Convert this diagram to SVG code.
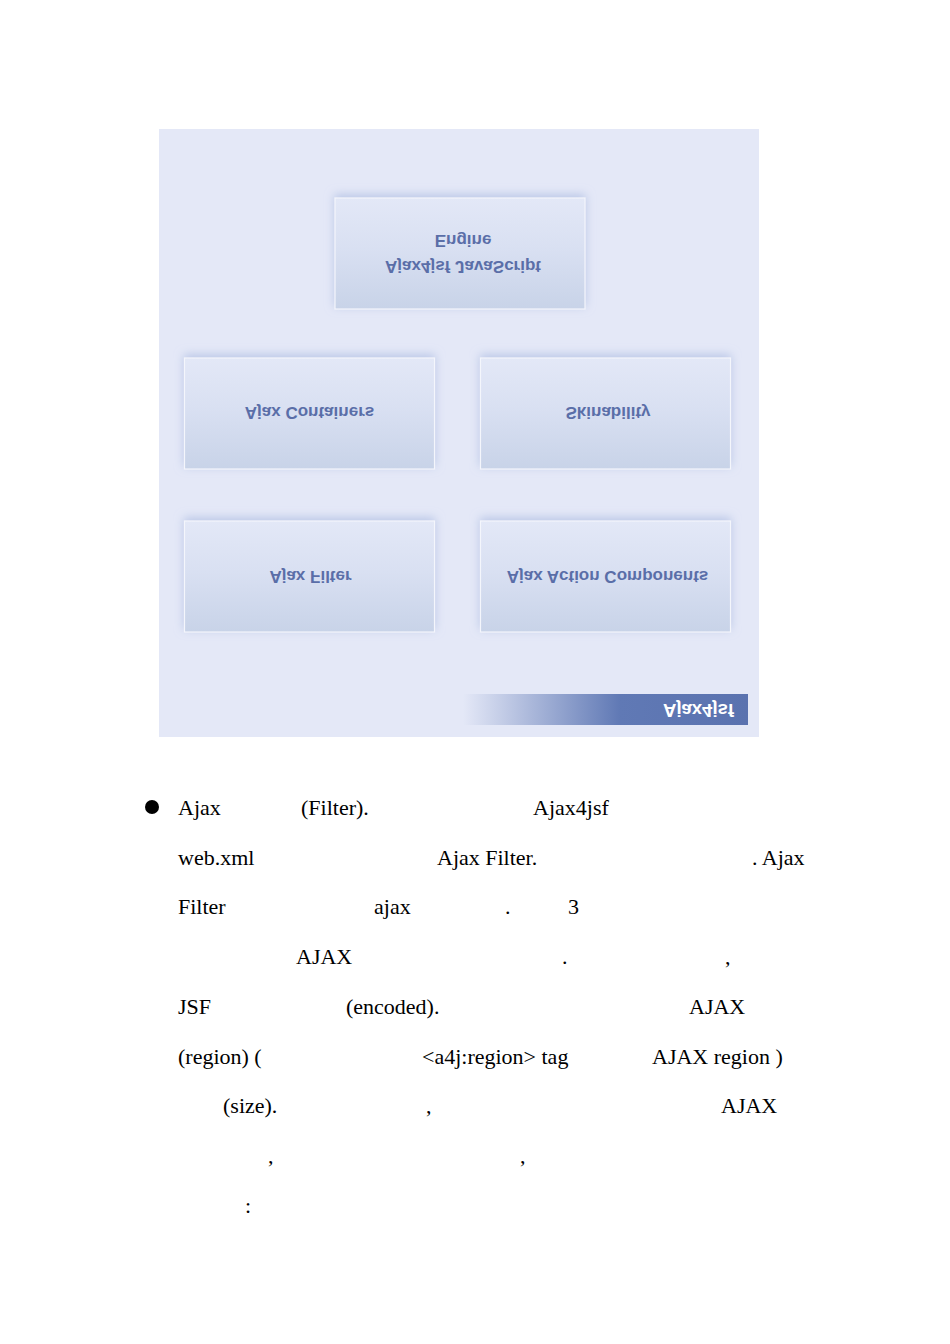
<svg xmlns="http://www.w3.org/2000/svg" width="950" height="1344" viewBox="0 0 950 1344">
<style>
.lbl{font-family:"Liberation Sans",Arial,sans-serif;font-weight:bold;font-size:17px;fill:#5a6ea8;text-anchor:middle}
.ban{font-family:"Liberation Sans",Arial,sans-serif;font-weight:bold;font-size:18.5px;fill:#ffffff;text-anchor:end}
.body{font-family:"Liberation Serif","Times New Roman",serif;font-size:22px;fill:#000000}
.box{fill:url(#boxg);stroke:#f4f6fc;stroke-width:1.2;filter:url(#sh)}
</style>
<defs>
<linearGradient id="boxg" x1="0" y1="0" x2="0" y2="1">
<stop offset="0" stop-color="#e3e8f7"/>
<stop offset="0.45" stop-color="#d9e0f2"/>
<stop offset="1" stop-color="#c8d3e8"/>
</linearGradient>
<linearGradient id="bang" x1="0" y1="0" x2="1" y2="0">
<stop offset="0" stop-color="#e4e8f7"/>
<stop offset="0.55" stop-color="#6079b5"/>
<stop offset="1" stop-color="#5a72af"/>
</linearGradient>
<filter id="sh" x="-10%" y="-20%" width="120%" height="140%">
<feDropShadow dx="0" dy="-3" stdDeviation="5" flood-color="#a8b8e0" flood-opacity="0.7"/>
</filter>
</defs>
<rect x="159" y="129" width="600" height="608" fill="#e4e8f7"/>
<g id="connectors"></g>
<g id="node-engine">
<rect class="box" x="335" y="198" width="250" height="111"/>
<text class="lbl" transform="translate(463,266) scale(1,-1)" y="5.5">Ajax4jsf JavaScript</text>
<text class="lbl" transform="translate(463,240) scale(1,-1)" y="5.5">Engine</text>
</g>
<g id="node-containers">
<rect class="box" x="184.5" y="358" width="250" height="111"/>
<text class="lbl" transform="translate(309.5,412) scale(1,-1)" y="5.5">Ajax Containers</text>
</g>
<g id="node-skinability">
<rect class="box" x="480.5" y="358" width="250" height="111"/>
<text class="lbl" transform="translate(608,412) scale(1,-1)" y="5.5">Skinability</text>
</g>
<g id="node-filter">
<rect class="box" x="184.5" y="521" width="250" height="111"/>
<text class="lbl" transform="translate(310.5,576) scale(1,-1)" y="5.5">Ajax Filter</text>
</g>
<g id="node-action">
<rect class="box" x="480.5" y="521" width="250" height="111"/>
<text class="lbl" transform="translate(607.5,576) scale(1,-1)" y="5.5">Ajax Action Components</text>
</g>
<g id="banner">
<rect x="463" y="694" width="285" height="31" fill="url(#bang)"/>
<text class="ban" transform="translate(734,710) scale(1,-1)" y="6.5">Ajax4jsf</text>
</g>
<g id="body">
<circle cx="152" cy="807" r="7" fill="#000"/>
<text class="body" y="815"><tspan x="178">Ajax</tspan><tspan x="301">(Filter).</tspan><tspan x="533">Ajax4jsf</tspan></text>
<text class="body" y="864.7"><tspan x="178">web.xml</tspan><tspan x="437">Ajax Filter.</tspan><tspan x="752">. Ajax</tspan></text>
<text class="body" y="914.4"><tspan x="178">Filter</tspan><tspan x="374">ajax</tspan><tspan x="505">.</tspan><tspan x="568">3</tspan></text>
<text class="body" y="964.1"><tspan x="296">AJAX</tspan><tspan x="562">.</tspan><tspan x="725">,</tspan></text>
<text class="body" y="1013.8"><tspan x="178">JSF</tspan><tspan x="346">(encoded).</tspan><tspan x="689">AJAX</tspan></text>
<text class="body" y="1063.5"><tspan x="178">(region) (</tspan><tspan x="422">&lt;a4j:region&gt; tag</tspan><tspan x="652">AJAX region )</tspan></text>
<text class="body" y="1113.2"><tspan x="223">(size).</tspan><tspan x="426">,</tspan><tspan x="721">AJAX</tspan></text>
<text class="body" y="1162.9"><tspan x="268">,</tspan><tspan x="520">,</tspan></text>
<text class="body" y="1212.6"><tspan x="245">:</tspan></text>
</g>
</svg>
